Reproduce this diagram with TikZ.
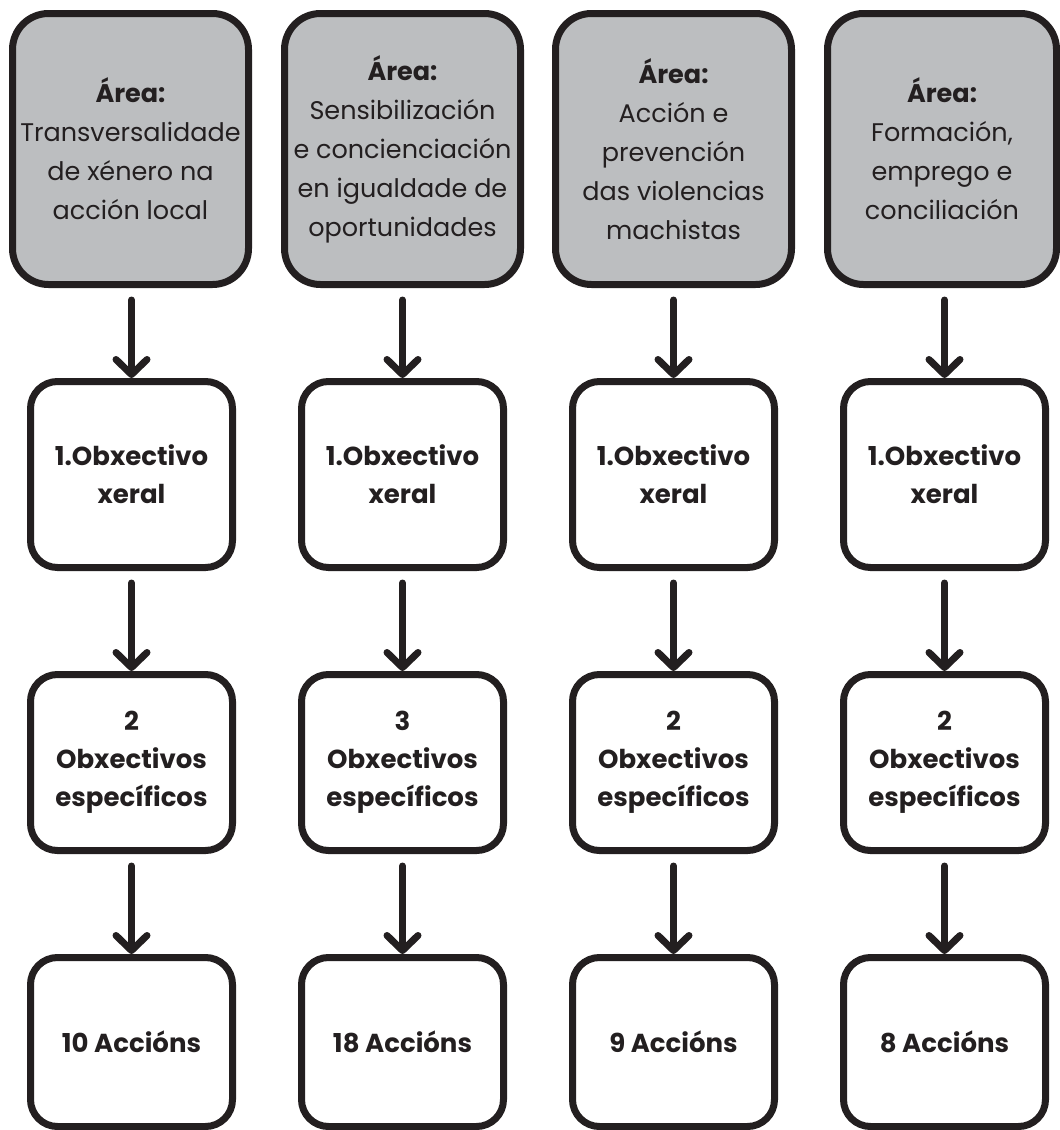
\documentclass[tikz,border=0pt]{standalone}
\usepackage{fontspec}
\setmainfont{Poppins}
\usetikzlibrary{arrows.meta}
\definecolor{ink}{HTML}{231F20}
\definecolor{greyfill}{HTML}{BCBEC0}
\begin{document}
\begin{tikzpicture}[x=1pt,y=-1pt,
  box/.style={draw=ink, line width=7pt, rounded corners=27pt, inner sep=0pt, align=center, text=ink},
  areabox/.style={box, fill=greyfill, rounded corners=36pt, minimum height=271pt, font=\fontsize{25.5}{39}\selectfont},
  smallbox/.style={box, fill=white, minimum width=202pt, font=\bfseries\fontsize{26}{38}\selectfont},
  objbox/.style={smallbox, minimum height=186pt},
  espbox/.style={smallbox, minimum height=176pt},
  actbox/.style={smallbox, minimum height=169pt},
  arr/.style={draw=ink, line width=7pt, line cap=round, shorten <=12pt,
    -{Straight Barb[length=15pt,width=31pt,line cap=round,line join=round]}}]
\useasboundingbox (0,0) rectangle (1060,1130);
% top row
\node[areabox, minimum width=236pt] (t1) at (130.5,149) {\textbf{Área:}\\Transversalidade\\de xénero na\\acción local};
\node[areabox, minimum width=236pt] (t2) at (402.5,149) {\textbf{Área:}\\Sensibilización\\e concienciación\\en igualdade de\\oportunidades};
\node[areabox, minimum width=236pt] (t3) at (673.5,149) {\textbf{Área:}\\Acción e\\prevención\\das violencias\\machistas};
\node[areabox, minimum width=229pt] (t4) at (942,149) {\textbf{Área:}\\Formación,\\emprego e\\conciliación};
% objectives
\node[objbox] (o1) at (131.5,474.5) {1.Obxectivo\\xeral};
\node[objbox] (o2) at (402.5,474.5) {1.Obxectivo\\xeral};
\node[objbox] (o3) at (673.5,474.5) {1.Obxectivo\\xeral};
\node[objbox] (o4) at (944.5,474.5) {1.Obxectivo\\xeral};
% specific
\node[espbox] (e1) at (131.5,762.5) {2\\Obxectivos\\específicos};
\node[espbox] (e2) at (402.5,762.5) {3\\Obxectivos\\específicos};
\node[espbox] (e3) at (673.5,762.5) {2\\Obxectivos\\específicos};
\node[espbox] (e4) at (944.5,762.5) {2\\Obxectivos\\específicos};
% actions
\node[actbox] (a1) at (131.5,1042) {10 Accións};
\node[actbox] (a2) at (402.5,1042) {18 Accións};
\node[actbox] (a3) at (673.5,1042) {9 Accións};
\node[actbox] (a4) at (944.5,1042) {8 Accións};
% arrows
\foreach \i in {1,2,3,4}{
  \draw[arr] (o\i.north |- t\i.south) -- (o\i.north);
  \draw[arr] (o\i.south) -- (e\i.north);
  \draw[arr] (e\i.south) -- (a\i.north);
}
\end{tikzpicture}
\end{document}
